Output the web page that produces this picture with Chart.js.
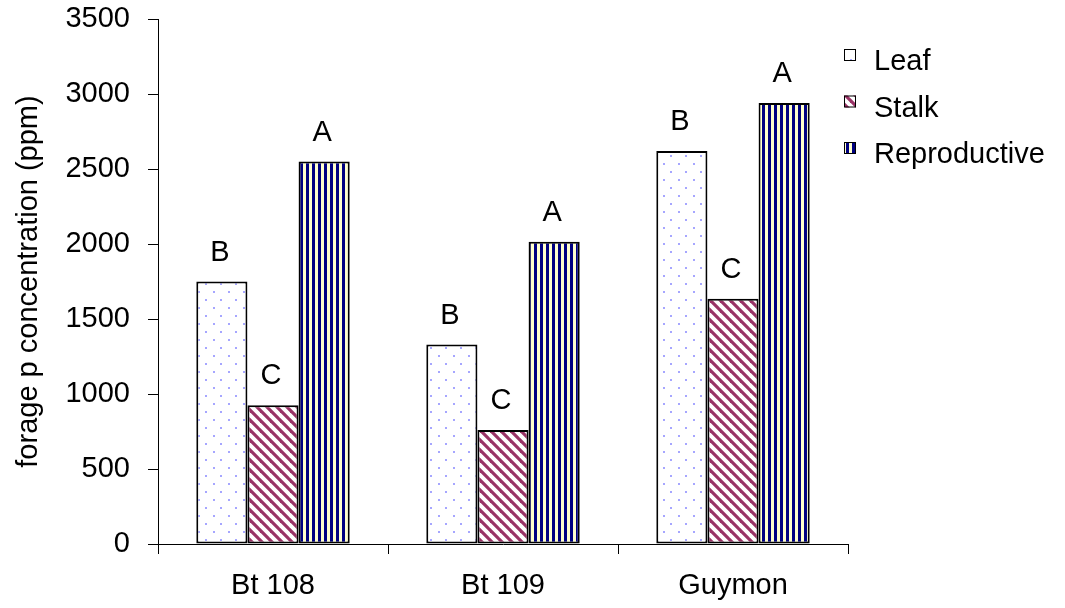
<!DOCTYPE html>
<html>
<head>
<meta charset="utf-8">
<script src="https://cdn.jsdelivr.net/npm/chart.js@4.4.1/dist/chart.umd.min.js"></script>
<style>
  html, body { margin: 0; padding: 0; background: #fff; }
  #wrap { width: 1065px; height: 608px; position: relative; }
</style>
</head>
<body>
<div id="wrap"><canvas id="c"></canvas></div>
<script>
// Forage P concentration by plant part and cultivar
const categories = ['Bt 108', 'Bt 109', 'Guymon'];
const seriesNames = ['Leaf', 'Stalk', 'Reproductive'];
const leafValues = [1750, 1330, 2620];
const stalkValues = [925, 760, 1635];
const reproValues = [2550, 2015, 2940];
// Mean-separation letters shown above each bar
const leafLetters = ['B', 'B', 'B'];
const stalkLetters = ['C', 'C', 'C'];
const reproLetters = ['A', 'A', 'A'];
const yMin = 0, yMax = 3500, yStep = 500;
const yTitle = 'forage p concentration (ppm)';

const FONT = '"Liberation Sans", Arial, sans-serif';
const FSIZE = 29;

const tmp = document.createElement('canvas').getContext('2d');

// light dotted fill
const dotFill = (() => {
  const c = document.createElement('canvas');
  c.width = 15; c.height = 16;
  const g = c.getContext('2d');
  g.fillStyle = '#ffffff'; g.fillRect(0, 0, 15, 16);
  g.fillStyle = '#a6a6ff';
  g.fillRect(3, 3, 2, 2);
  g.fillRect(10, 11, 2, 2);
  return tmp.createPattern(c, 'repeat');
})();

// maroon diagonal hatch
const hatchFill = (() => {
  const P = 10;
  const c = document.createElement('canvas');
  c.width = P; c.height = P;
  const g = c.getContext('2d');
  g.fillStyle = '#ffffff'; g.fillRect(0, 0, P, P);
  g.strokeStyle = '#993366';
  g.lineWidth = 3.2;
  for (let k = -2; k <= 2; k++) {
    g.beginPath();
    g.moveTo(k * P - 3, -3);
    g.lineTo(k * P + P + 3, P + 3);
    g.stroke();
  }
  return tmp.createPattern(c, 'repeat');
})();

// navy / cream vertical stripes
const stripeFill = (() => {
  const c = document.createElement('canvas');
  c.width = 6; c.height = 2;
  const g = c.getContext('2d');
  g.fillStyle = '#ffffcc'; g.fillRect(0, 0, 6, 2);
  g.fillStyle = '#000080'; g.fillRect(0, 0, 3, 2);
  return tmp.createPattern(c, 'repeat');
})();

const fills = [dotFill, hatchFill, stripeFill];
const letters = [leafLetters, stalkLetters, reproLetters];

const barLetters = {
  id: 'barLetters',
  afterDatasetsDraw(chart) {
    const ctx = chart.ctx;
    ctx.save();
    ctx.font = FSIZE + 'px ' + FONT;
    ctx.fillStyle = '#000';
    ctx.textAlign = 'center';
    ctx.textBaseline = 'alphabetic';
    chart.data.datasets.forEach((ds, i) => {
      const meta = chart.getDatasetMeta(i);
      meta.data.forEach((bar, j) => {
        ctx.fillText(letters[i][j], bar.x - 2, bar.y - 21);
      });
    });
    ctx.restore();
  }
};

const sideLegend = {
  id: 'sideLegend',
  afterDraw(chart) {
    const ctx = chart.ctx;
    ctx.save();
    ctx.font = FSIZE + 'px ' + FONT;
    ctx.textAlign = 'left';
    ctx.textBaseline = 'alphabetic';
    chart.data.datasets.forEach((ds, i) => {
      const top = 49 + i * 46.5;
      ctx.fillStyle = ds.backgroundColor;
      ctx.fillRect(844, top, 12, 12);
      ctx.strokeStyle = '#000';
      ctx.lineWidth = 1;
      ctx.strokeRect(844.5, top + 0.5, 11, 11);
      ctx.fillStyle = '#000';
      ctx.fillText(ds.label, 874, top + 21);
    });
    ctx.restore();
  }
};

Chart.defaults.font.family = FONT;
Chart.defaults.font.size = FSIZE;
Chart.defaults.color = '#000';

new Chart(document.getElementById('c'), {
  type: 'bar',
  data: {
    labels: categories,
    datasets: [leafValues, stalkValues, reproValues].map((vals, i) => ({
      label: seriesNames[i],
      data: vals,
      backgroundColor: fills[i],
      borderColor: '#000',
      borderWidth: 2,
      borderSkipped: false,
      categoryPercentage: 0.667,
      barPercentage: 1.0
    }))
  },
  options: {
    responsive: true,
    maintainAspectRatio: false,
    animation: false,
    events: [],
    layout: { padding: { top: 19, right: 217, left: 0, bottom: 0 } },
    plugins: {
      legend: { display: false },
      tooltip: { enabled: false }
    },
    scales: {
      x: {
        grid: { offset: true, drawOnChartArea: false, tickLength: 10, color: '#000', lineWidth: 1 },
        border: { color: '#000', width: 1 },
        ticks: { padding: 15, font: { size: FSIZE }, maxRotation: 0 },
        afterFit(scale) { scale.height = 64; scale.paddingLeft = 0; scale.paddingRight = 0; }
      },
      y: {
        min: yMin,
        max: yMax,
        grid: { drawOnChartArea: false, tickLength: 10, color: '#000', lineWidth: 1 },
        border: { color: '#000', width: 1 },
        ticks: { stepSize: yStep, padding: 18, font: { size: FSIZE }, callback: v => String(v) },
        title: { display: true, text: yTitle, font: { size: FSIZE }, padding: { top: 12, bottom: 0 } },
        afterFit(scale) { scale.width = 158; scale.paddingTop = 0; scale.paddingBottom = 0; }
      }
    }
  },
  plugins: [barLetters, sideLegend]
});
</script>
</body>
</html>
